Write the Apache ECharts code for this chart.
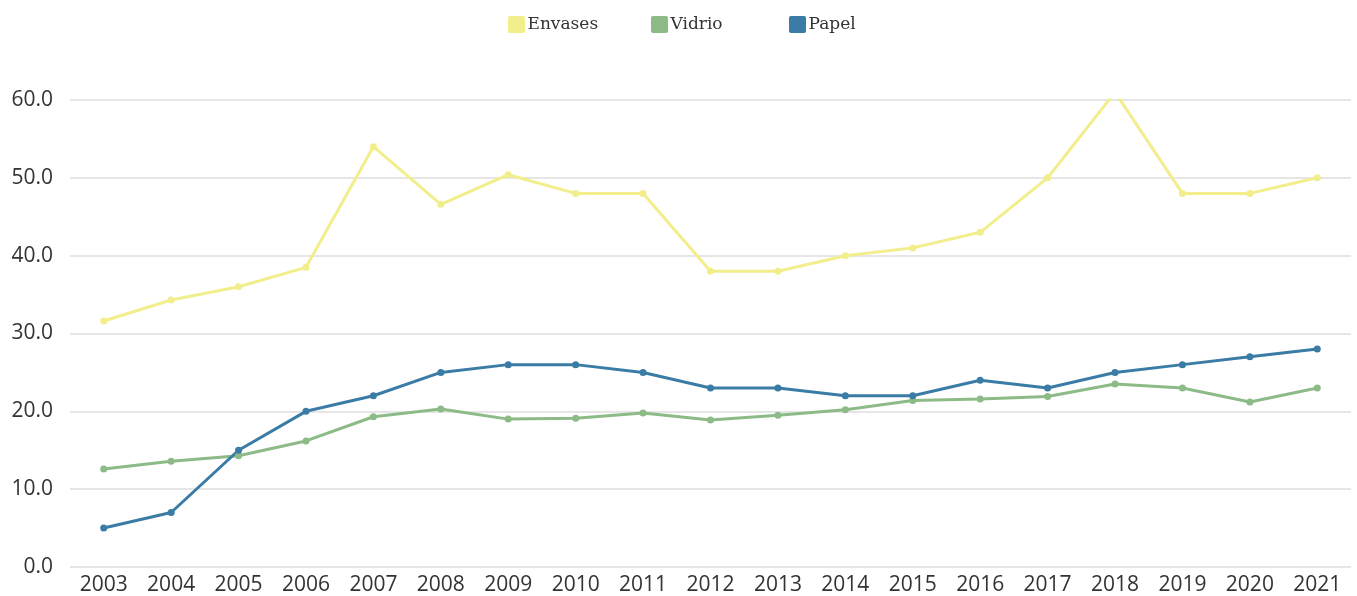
<!DOCTYPE html>
<html>
<head>
<meta charset="utf-8">
<style>
  html, body { margin: 0; padding: 0; background: #fff; }
  #chart { width: 1357px; height: 596px; }
</style>
<script src="https://cdn.jsdelivr.net/npm/echarts@6/dist/echarts.min.js"></script>
</head>
<body>
<div id="chart"></div>
<script>
var years = ["2003", "2004", "2005", "2006", "2007", "2008", "2009", "2010", "2011", "2012",
  "2013", "2014", "2015", "2016", "2017", "2018", "2019", "2020", "2021"];
var envases = [31.6, 34.3, 36.0, 38.5, 54.0, 46.6, 50.4, 48.0, 48.0, 38.0,
  38.0, 40.0, 41.0, 43.0, 50.0, 61.0, 48.0, 48.0, 50.0];
var vidrio = [12.6, 13.6, 14.3, 16.2, 19.3, 20.3, 19.0, 19.1, 19.8, 18.9,
  19.5, 20.2, 21.4, 21.6, 21.9, 23.5, 23.0, 21.2, 23.0];
var papel = [5, 7, 15, 20, 22, 25, 26, 26, 25, 23,
  23, 22, 22, 24, 23, 25, 26, 27, 28];

var colors = { Envases: "#f2ee8b", Vidrio: "#8cbb87", Papel: "#3a7ca5" };

var myChart = echarts.init(document.getElementById("chart"));

// one legend per item so each can sit where the original puts it
function legendAt(name, left) {
  return {
    data: [name],
    left: left,
    top: 11,
    icon: "path://M2,0 L16,0 Q18,0 18,2 L18,16 Q18,18 16,18 L2,18 Q0,18 0,16 L0,2 Q0,0 2,0 Z",
    itemWidth: 18,
    itemHeight: 17,
    itemGap: 0,
    textStyle: {
      fontFamily: "DejaVu Serif",
      fontSize: 17,
      color: "#333",
      padding: [0, 0, 0, -3],
    },
  };
}

function lineSeries(name, data) {
  return {
    name: name,
    type: "line",
    data: data,
    symbol: "circle",
    symbolSize: 7,
    color: colors[name],
    lineStyle: { width: 3 },
    emphasis: { disabled: true },
  };
}

var option = {
  animation: false,
  legend: [legendAt("Envases", 503), legendAt("Vidrio", 646), legendAt("Papel", 784)],
  grid: {
    left: 70,
    right: 6,
    top: 100,
    bottom: 29,
    containLabel: false,
  },
  xAxis: {
    type: "category",
    data: years,
    boundaryGap: true,
    axisLine: { show: false },
    axisTick: { show: false },
    axisLabel: {
      color: "#333",
      fontFamily: "Open Sans",
      fontSize: 21,
      margin: 8,
    },
  },
  yAxis: {
    type: "value",
    min: 0,
    max: 60,
    interval: 10,
    axisLine: { show: false },
    axisTick: { show: false },
    splitLine: { lineStyle: { color: "#e6e6e6", width: 2 } },
    axisLabel: {
      color: "#333",
      fontFamily: "Open Sans",
      fontSize: 21,
      margin: 17,
      formatter: function (v) { return v.toFixed(1); },
    },
  },
  series: [
    lineSeries("Envases", envases),
    lineSeries("Vidrio", vidrio),
    lineSeries("Papel", papel),
  ],
};

myChart.setOption(option);
</script>
</body>
</html>
